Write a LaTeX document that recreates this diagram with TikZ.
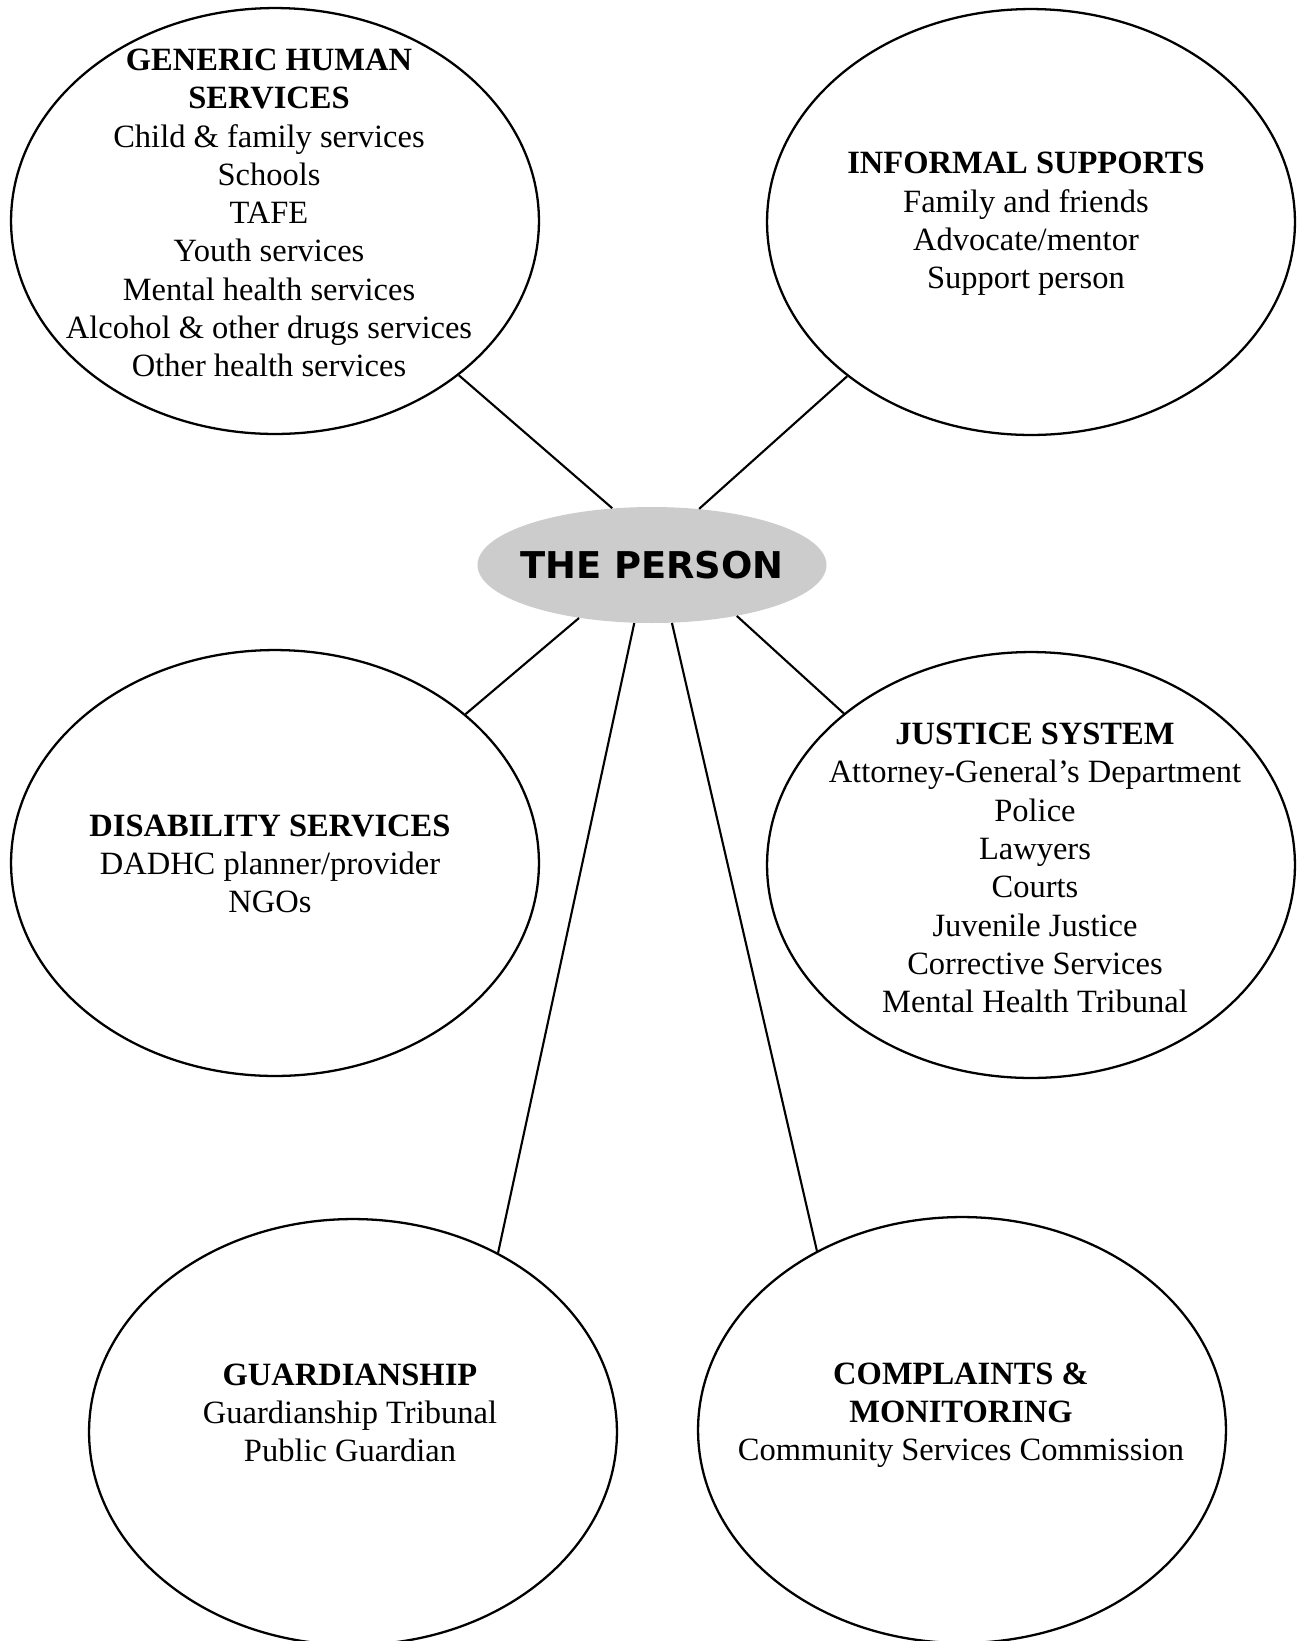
\documentclass[tikz,border=0pt]{standalone}
\usepackage{fontspec}
\setmainfont{Liberation Serif}
\newfontfamily\personfont{DejaVu Sans}
\usetikzlibrary{shapes.geometric}
\definecolor{personfill}{RGB}{204,204,204}
\begin{document}
\begin{tikzpicture}[x=0.02cm, y=-0.02cm,
  bubble/.style={ellipse, draw, line width=1.3pt, inner sep=0pt,
    minimum width=10.56cm, minimum height=8.52cm},
  personstyle/.style={ellipse, fill=personfill, inner sep=0pt,
    minimum width=6.98cm, minimum height=2.32cm},
  personlbl/.style={inner sep=0pt,
    font=\personfont\bfseries\fontsize{21}{25}\selectfont},
  lbl/.style={align=center, inner sep=0pt, font=\fontsize{18.5}{21.8}\selectfont},
  conn/.style={line width=1.2pt}]
\useasboundingbox (0,0) rectangle (1297,1641);
\clip (0,0) rectangle (1297,1641);
\fill[white] (0,0) rectangle (1297,1641);
% ellipses
\node[bubble] (gen) at (275,221) {};
\node[bubble] (inf) at (1031,222) {};
\node[bubble] (dis) at (275,863) {};
\node[bubble] (jus) at (1031,865) {};
\node[bubble] (gua) at (353,1432) {};
\node[bubble] (com) at (962,1430) {};
\node[personstyle] (per) at (652,565) {};
\node[personlbl] (perT) at (per.center) {THE PERSON};
% connectors
\draw[conn] (gen.-40.8) -- (per.125.1);
\draw[conn] (inf.-140.9) -- (per.50.5);
\draw[conn] (per.-144.2) -- (dis.38.4);
\draw[conn] (per.-31.9) -- (jus.141.7);
\draw[conn] (per.-107.6) -- (gua.51.3);
\draw[conn] (per.-71.6) -- (com.129.8);
% texts
\node[lbl] (genT) at (269,213) {\textbf{GENERIC HUMAN}\\\textbf{SERVICES}\\Child \& family services\\Schools\\TAFE\\Youth services\\Mental health services\\Alcohol \& other drugs services\\Other health services};
\node[lbl] (infT) at (1026,224) {\textbf{INFORMAL SUPPORTS}\\Family and friends\\Advocate/mentor\\Support person};
\node[lbl] (disT) at (270,864) {\textbf{DISABILITY SERVICES}\\DADHC planner/provider\\NGOs};
\node[lbl] (jusT) at (1035,868) {\textbf{JUSTICE SYSTEM}\\Attorney-General’s Department\\Police\\Lawyers\\Courts\\Juvenile Justice\\Corrective Services\\Mental Health Tribunal};
\node[lbl] (guaT) at (350,1413) {\textbf{GUARDIANSHIP}\\Guardianship Tribunal\\Public Guardian};
\node[lbl] (comT) at (961,1415) {\textbf{COMPLAINTS \&}\\\textbf{MONITORING}\\Community Services Commission};
\end{tikzpicture}
\end{document}
